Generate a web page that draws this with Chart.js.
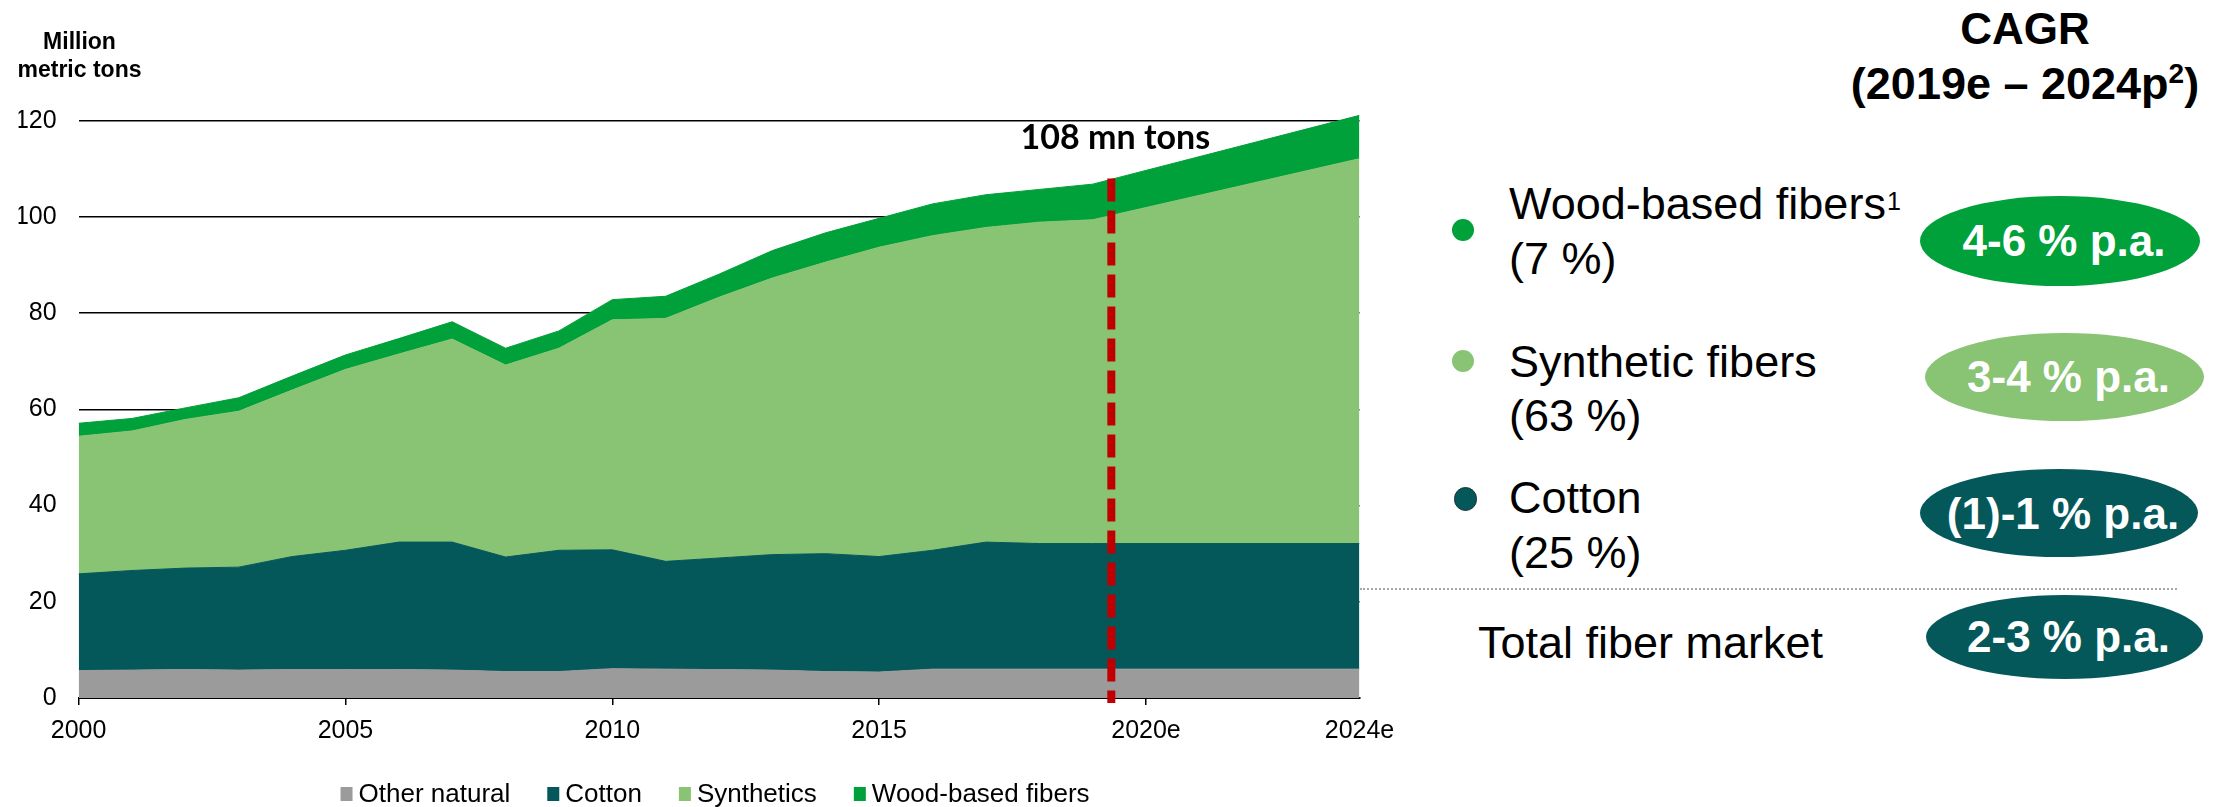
<!DOCTYPE html>
<html>
<head>
<meta charset="utf-8">
<script src="https://cdn.jsdelivr.net/npm/chart.js@4.4.1/dist/chart.umd.min.js"></script>
<style>
  html, body { margin: 0; padding: 0; background: #fff; }
  body {
    width: 2228px; height: 807px; position: relative; overflow: hidden;
    font-family: "Liberation Sans", Arial, sans-serif; color: #000;
  }
  #chart { position: absolute; left: 0; top: 0; }
  .t { position: absolute; line-height: 1; white-space: nowrap; }
  .mid { transform: translateX(-50%); }
  .b { font-weight: bold; }
  .dot, .pill { position: absolute; border-radius: 50%; }
  .rule { position: absolute; height: 0; border-top: 2px dotted #a8a8a8; }
</style>
</head>
<body>
<canvas id="chart" width="1440" height="807"></canvas>
<div id="side"></div>
<script>
// fiber volumes, million metric tons (2019 onward is the projection to 2024)
const years = [2000, 2001, 2002, 2003, 2004, 2005, 2006, 2007, 2008, 2009,
  2010, 2011, 2012, 2013, 2014, 2015, 2016, 2017, 2018, 2019, 2024];
const otherNatural = [5.7, 5.8, 5.9, 5.8, 5.9, 5.9, 5.9, 5.8, 5.5, 5.5,
  6.1, 6.0, 5.9, 5.8, 5.5, 5.4, 6.0, 6.0, 6.0, 6.0, 6.0];
const cotton = [20.1, 20.7, 21.1, 21.4, 23.5, 24.8, 26.5, 26.6, 23.8, 25.2,
  24.7, 22.4, 23.2, 24.0, 24.5, 24.0, 24.7, 26.4, 26.1, 26.1, 26.1];
const synthetics = [28.6, 29.0, 30.9, 32.4, 34.6, 37.6, 39.1, 42.2, 39.9, 42.0,
  47.8, 50.5, 54.2, 57.5, 60.6, 64.3, 65.4, 65.4, 66.8, 67.3, 80.0];
const woodBased = [2.7, 2.6, 2.4, 2.8, 2.9, 3.0, 3.2, 3.6, 3.5, 3.6,
  4.2, 4.6, 4.8, 5.7, 6.1, 6.0, 6.6, 6.8, 6.8, 7.4, 9.0];

const seriesNames = ["Other natural", "Cotton", "Synthetics", "Wood-based fibers"];
const xTickValues = [2000, 2005, 2010, 2015, 2020, 2024];
const xTickLabels = ["2000", "2005", "2010", "2015", "2020e", "2024e"];
const yTickValues = [0, 20, 40, 60, 80, 100, 120];

const markerYear = 2019.35;
const markerValue = 108;
const markerLabel = "108 mn tons";

// CAGR panel
const cagrNames = ["Wood-based fibers", "Synthetic fibers", "Cotton"];
const cagrNotes = ["1", "", ""];
const cagrShares = ["(7 %)", "(63 %)", "(25 %)"];
const cagrRates = ["4-6 % p.a.", "3-4 % p.a.", "(1)-1 % p.a."];
const totalName = "Total fiber market";
const totalRate = "2-3 % p.a.";

const GREY = "#9b9b9b", TEAL = "#05585a", LIGHT = "#89c374", GREEN = "#00a03a";
const seriesColors = [GREY, TEAL, LIGHT, GREEN];
const FONT = '"Liberation Sans", Arial, sans-serif';

Chart.defaults.font.family = FONT;
Chart.defaults.color = "#000";

const seriesValues = [otherNatural, cotton, synthetics, woodBased];
const datasets = seriesValues.map((vals, i) => ({
  label: seriesNames[i],
  data: years.map((yr, j) => ({ x: yr, y: vals[j] })),
  backgroundColor: seriesColors[i],
  borderColor: seriesColors[i],
  borderWidth: 1,
  pointRadius: 0,
  tension: 0,
  fill: i === 0 ? "origin" : "-1",
}));

// red dashed 2019 marker with its total label
const markerPlugin = {
  id: "marker",
  afterDatasetsDraw(chart) {
    const { ctx, scales: { x, y } } = chart;
    const px = x.getPixelForValue(markerYear);
    const top = y.getPixelForValue(markerValue);
    ctx.save();
    ctx.strokeStyle = "#c00000";
    ctx.lineWidth = 8;
    ctx.setLineDash([23, 9]);
    ctx.beginPath();
    ctx.moveTo(px, top);
    ctx.lineTo(px, y.getPixelForValue(0) + 5);
    ctx.stroke();
    ctx.setLineDash([]);
    ctx.fillStyle = "#000";
    ctx.font = "bold 34px Lato";
    ctx.textAlign = "center";
    ctx.textBaseline = "alphabetic";
    ctx.fillText(markerLabel, px + 4, top - 29);
    ctx.restore();
  },
};

// legend row under the axis
const keyPlugin = {
  id: "bottomKey",
  afterDraw(chart) {
    const { ctx, chartArea } = chart;
    const sets = chart.data.datasets;
    ctx.save();
    ctx.font = "26px " + FONT;
    const widths = sets.map((d) => 18 + ctx.measureText(d.label).width);
    const total = widths.reduce((a, b) => a + b, 0) + 37 * (sets.length - 1);
    let x = (chartArea.left + chartArea.right) / 2 - 4 - total / 2;
    ctx.textBaseline = "alphabetic";
    sets.forEach((d, i) => {
      ctx.fillStyle = d.backgroundColor;
      ctx.fillRect(x, 787, 12, 14);
      ctx.fillStyle = "#000";
      ctx.fillText(d.label, x + 18, 801.5);
      x += widths[i] + 37;
    });
    ctx.restore();
  },
};

new Chart(document.getElementById("chart"), {
  type: "line",
  data: { datasets },
  plugins: [markerPlugin, keyPlugin],
  options: {
    responsive: false,
    animation: false,
    layout: { padding: { top: 101.4, left: 18.6, right: 80.5, bottom: 69 } },
    plugins: { legend: { display: false }, tooltip: { enabled: false } },
    scales: {
      x: {
        type: "linear",
        min: 2000,
        max: 2024,
        afterBuildTicks: (s) => { s.ticks = xTickValues.map((v) => ({ value: v })); },
        afterFit: (s) => { s.height = 40; },
        ticks: {
          autoSkip: false,
          maxRotation: 0,
          padding: 11,
          font: { size: 25 },
          callback: (v) => xTickLabels[xTickValues.indexOf(v)],
        },
        grid: {
          drawOnChartArea: false,
          drawTicks: true,
          tickLength: 7,
          lineWidth: 1.5,
          color: (c) => (c.tick && c.tick.value === 2024 ? "rgba(0,0,0,0)" : "#000"),
        },
        border: { display: true, color: "#000", width: 2 },
      },
      y: {
        stacked: true,
        min: 0,
        max: 124,
        afterBuildTicks: (s) => { s.ticks = yTickValues.map((v) => ({ value: v })); },
        afterFit: (s) => { s.width = 60; },
        ticks: { padding: 22, font: { size: 25 } },
        grid: { color: "#000", lineWidth: 1.5, drawTicks: false },
        border: { display: false },
      },
    },
  },
});

// right-hand CAGR panel
const side = document.getElementById("side");
function text(html, x, baseline, size, cls) {
  const d = document.createElement("div");
  d.className = "t " + (cls || "");
  d.style.fontSize = size + "px";
  d.style.left = x + "px";
  d.style.top = baseline - 0.8465 * size + "px";
  d.innerHTML = html;
  side.appendChild(d);
  return d;
}
function dot(cx, cy, r, color, edge) {
  const d = document.createElement("div");
  d.className = "dot";
  Object.assign(d.style, {
    left: cx - r + "px", top: cy - r + "px", width: 2 * r + "px", height: 2 * r + "px",
    background: color, boxSizing: "border-box", border: edge ? "1.5px solid #1d3333" : "none",
  });
  side.appendChild(d);
}
function pill(cx, cy, rx, ry, color, label) {
  const d = document.createElement("div");
  d.className = "pill";
  Object.assign(d.style, {
    left: cx - rx + "px", top: cy - ry + "px", width: 2 * rx + "px", height: 2 * ry + "px",
    background: color,
  });
  side.appendChild(d);
  text(label, cx + 4, cy + 15.5, 44, "b mid").style.color = "#fff";
}

text("Million", 79.5, 49.3, 23, "b mid");
text("metric tons", 79.5, 77.3, 23, "b mid");

text("CAGR", 2025, 44, 44, "b mid");
text('(2019e – 2024p<span style="font-size:28px;position:relative;top:-16px">2</span>)',
  2025, 99, 45, "b mid");

const rowDots = [[1463, 230, 11.3], [1463, 361, 11.3], [1465.5, 499, 11.7]];
const rowNameBase = [219.3, 376.7, 513.3];
const rowPills = [[2060, 241, 140, 45], [2064.5, 377, 139.5, 44], [2059, 513.3, 139, 44]];
const rowColors = [GREEN, LIGHT, TEAL];

cagrNames.forEach((name, i) => {
  const [dx, dy, r] = rowDots[i];
  dot(dx, dy, r, rowColors[i], i === 2);
  const note = cagrNotes[i]
    ? '<span style="font-size:25px;position:relative;top:-9px;margin-left:1px">' + cagrNotes[i] + "</span>"
    : "";
  text(name + note, 1509, rowNameBase[i], 45);
  text(cagrShares[i], 1509, rowNameBase[i] + 54.5, 45);
  const [px, py, rx, ry] = rowPills[i];
  pill(px, py, rx, ry, rowColors[i], cagrRates[i]);
});

const rule = document.createElement("div");
rule.className = "rule";
Object.assign(rule.style, { left: "1360px", top: "587.5px", width: "817px" });
side.appendChild(rule);

text(totalName, 1478, 658.3, 45);
pill(2064.5, 636.5, 138.7, 42, TEAL, totalRate);
</script>
</body>
</html>
